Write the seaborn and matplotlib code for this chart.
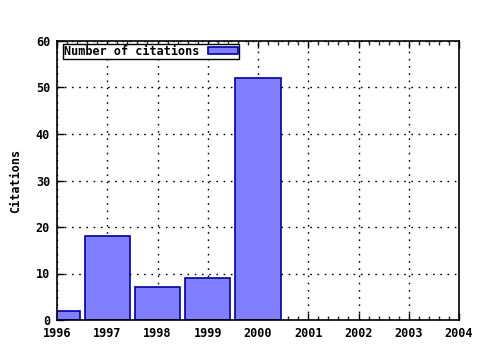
import matplotlib
matplotlib.use("Agg")
import matplotlib.pyplot as plt
import seaborn as sns
import pandas as pd
from matplotlib.patches import Patch
from matplotlib.ticker import MultipleLocator

years = [1996, 1997, 1998, 1999, 2000]
citations = [2, 18, 7, 9, 52]
series_label = "Number of citations"
y_label = "Citations"

sns.set_style("white")
plt.rcParams['font.family'] = ['DejaVu Sans Mono', 'DejaVu Sans']
plt.rcParams['font.weight'] = 'bold'
plt.rcParams['text.color'] = 'black'
plt.rcParams['axes.labelcolor'] = 'black'

df = pd.DataFrame({"year": years, "citations": citations})

fig = plt.figure(figsize=(4.8, 3.5), dpi=100)
ax = fig.add_axes([57/480, 1-320/350, (459-57)/480, (320-41)/350])

fill = "#8080ff"
edge = "#0000a0"
sns.barplot(data=df, x="year", y="citations", native_scale=True, width=0.9,
            color=fill, saturation=1, edgecolor=edge, linewidth=1.2, ax=ax)

ax.set_xlim(1996, 2004)
ax.set_ylim(0, 60)
ax.xaxis.set_minor_locator(MultipleLocator(0.2))
ax.yaxis.set_major_locator(MultipleLocator(10))
ax.set_xticks(range(1996, 2005))
ax.set_xticklabels([str(y) for y in range(1996, 2005)])
ax.set_xlabel("")
ax.set_ylabel(y_label, fontsize=8.5, fontweight='bold', labelpad=10, color='black')

ax.grid(True, which='major', color='black', linestyle=(0, (1.2, 4)), linewidth=1.0)
ax.set_axisbelow(True)
for s in ax.spines.values():
    s.set_visible(True)
    s.set_color('black')
    s.set_linewidth(1.2)

ax.tick_params(axis='x', which='major', direction='in', length=5, width=1, top=True, bottom=True,
               labelsize=8.5, pad=5, colors='black')
ax.tick_params(axis='x', which='minor', direction='in', length=3, width=1, top=True, bottom=True)
ax.tick_params(axis='y', which='major', direction='in', length=5, width=1, left=True, right=False,
               labelsize=8.5, pad=5, colors='black')
for lbl in ax.get_xticklabels() + ax.get_yticklabels():
    lbl.set_fontweight('bold')

handle = Patch(facecolor=fill, edgecolor=edge, linewidth=1.2)
leg = ax.legend([handle], [series_label], loc='upper left', bbox_to_anchor=(0.015, 0.99),
                markerfirst=False, frameon=True, fancybox=False, borderpad=0.08,
                handlelength=2.6, handleheight=0.5, handletextpad=0.7, borderaxespad=0,
                prop={'size': 8.5, 'weight': 'bold'})
leg.get_frame().set_edgecolor('black')
leg.get_frame().set_linewidth(1.0)
leg.get_frame().set_alpha(1)
for t in leg.get_texts():
    t.set_color('black')

fig.savefig("out.png", dpi=100)
